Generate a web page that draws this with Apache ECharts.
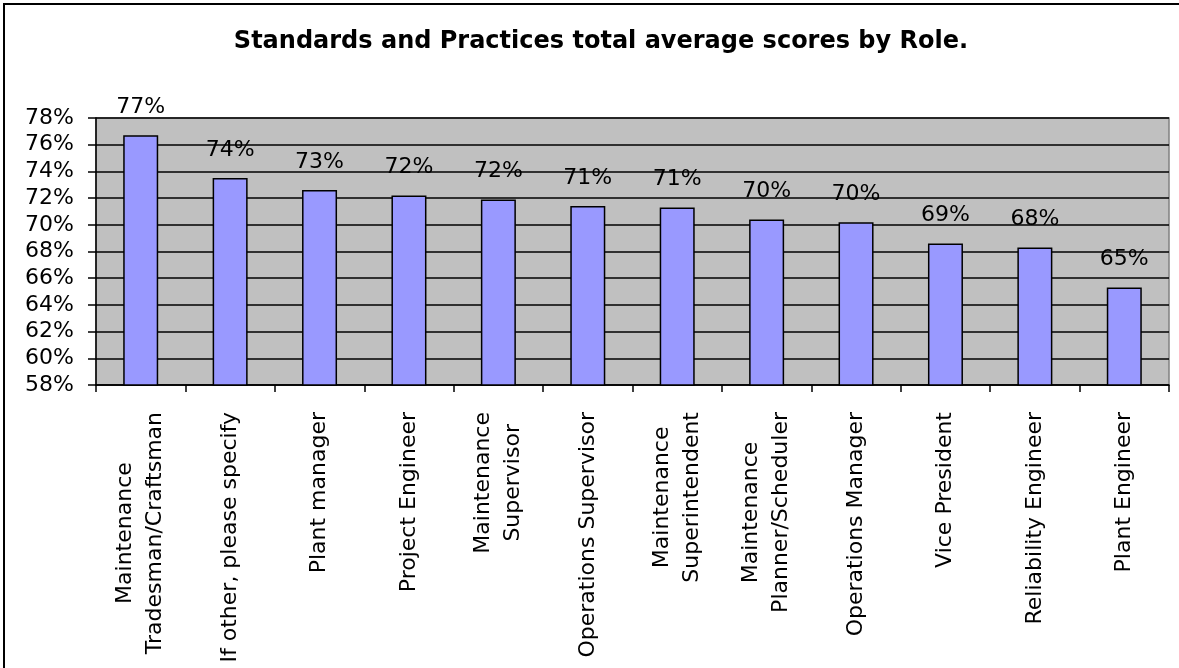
<!DOCTYPE html>
<html>
<head>
<meta charset="utf-8">
<script src="https://cdn.jsdelivr.net/npm/echarts@6/dist/echarts.min.js"></script>
<style>
html, body { margin: 0; padding: 0; background: #fff; }
#chart { width: 1179px; height: 668px; }
</style>
</head>
<body>
<div id="chart"></div>
<script>
var roles = [
	'Maintenance\nTradesman/Craftsman',
	'If other, please specify',
	'Plant manager',
	'Project Engineer',
	'Maintenance\nSupervisor',
	'Operations Supervisor',
	'Maintenance\nSuperintendent',
	'Maintenance\nPlanner/Scheduler',
	'Operations Manager',
	'Vice President',
	'Reliability Engineer',
	'Plant Engineer'
];
var scores = [76.7, 73.5, 72.6, 72.2, 71.9, 71.4, 71.3, 70.4, 70.2, 68.6, 68.3, 65.3];
var yTicks = [58, 60, 62, 64, 66, 68, 70, 72, 74, 76, 78];

var font = '"DejaVu Sans", sans-serif';

function roleLabel(v) {
	return v.split('\n').map(function (s) { return '{c|' + s + '}'; }).join('\n');
}

var myChart = echarts.init(document.getElementById('chart'));
var option = {
	animation: false,
	title: {
		text: 'Standards and Practices total average scores by Role.',
		left: 596,
		textAlign: 'center',
		top: 25,
		textStyle: { fontFamily: font, fontSize: 24, fontWeight: 'bold', color: '#000' }
	},
	graphic: [{
		type: 'rect',
		shape: { x: 4, y: 4, width: 1200, height: 700 },
		style: { fill: 'none', stroke: '#000', lineWidth: 2 },
		silent: true
	}],
	grid: {
		left: 96, right: 10, top: 118, bottom: 283,
		show: true,
		backgroundColor: '#c0c0c0',
		borderColor: '#808080',
		borderWidth: 1.5
	},
	xAxis: {
		type: 'category',
		data: roles,
		axisLine: { lineStyle: { color: '#000', width: 1.5 } },
		axisTick: { show: true, length: 7, lineStyle: { color: '#000', width: 1.5 } },
		axisLabel: {
			rotate: 90,
			interval: 0,
			margin: 27,
			color: '#000',
			fontFamily: font,
			fontSize: 22,
			formatter: roleLabel,
			rich: { c: { align: 'center', fontFamily: font, fontSize: 22, color: '#000', lineHeight: 30 } }
		}
	},
	yAxis: {
		type: 'value',
		min: yTicks[0],
		max: yTicks[yTicks.length - 1],
		interval: 2,
		axisLine: { show: true, lineStyle: { color: '#000', width: 1.5 } },
		axisTick: { show: true, length: 8, lineStyle: { color: '#000', width: 1.5 } },
		axisLabel: {
			margin: 22,
			color: '#000',
			fontFamily: font,
			fontSize: 22,
			formatter: function (v) { return v + '%'; }
		},
		splitLine: { lineStyle: { color: '#000', width: 1.5 } }
	},
	series: [{
		type: 'bar',
		data: scores,
		barWidth: 35,
		itemStyle: { color: '#9999ff', borderColor: '#000', borderWidth: 1.5 },
		label: {
			show: true,
			position: 'top',
			distance: 17,
			color: '#000',
			fontFamily: font,
			fontSize: 22,
			formatter: function (p) { return Math.round(p.value) + '%'; }
		}
	}]
};
myChart.setOption(option);
</script>
</body>
</html>
